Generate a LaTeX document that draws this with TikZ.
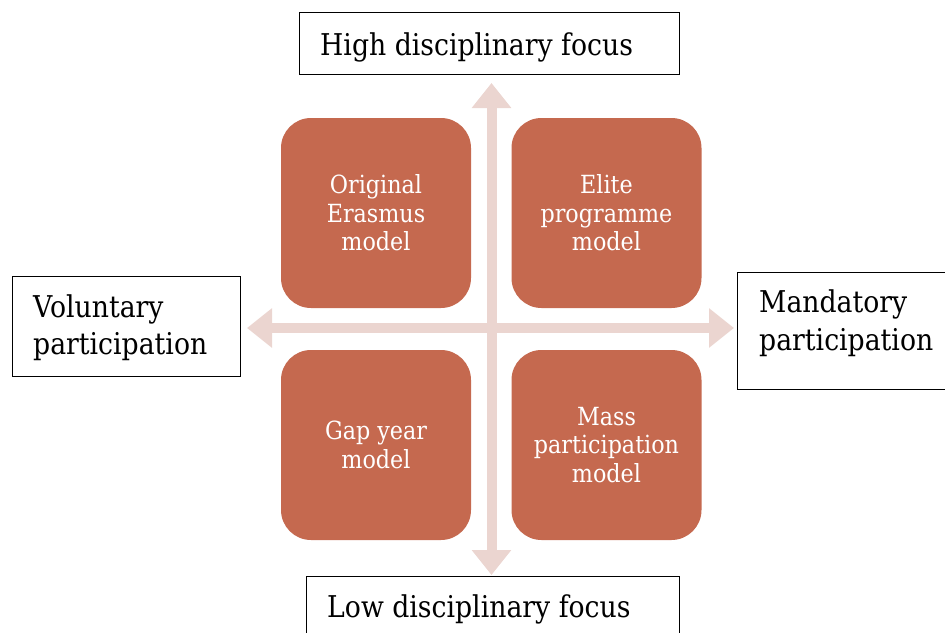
\documentclass[tikz,border=0pt]{standalone}
\usepackage{fontspec}
\setmainfont{DejaVu Serif}[FakeStretch=0.89]
\usetikzlibrary{arrows.meta,fit}
\definecolor{quad}{HTML}{C5694F}
\definecolor{axis}{HTML}{EBD5D0}
\tikzset{
  quadbox/.style={draw=none, fill=quad, rounded corners=30pt, minimum width=190pt, minimum height=190pt, text=white, align=center, font=\fontsize{25}{28.5}\selectfont, inner sep=0pt},
  framebox/.style={draw=black, line width=1pt, inner sep=0pt},
  outertext/.style={anchor=base west, align=left, inner sep=0pt, font=\fontsize{30}{37.5}\selectfont},
  axisarrow/.style={draw=axis, line width=10pt, {Triangle[width=38pt,length=25pt]}-{Triangle[width=38pt,length=25pt]}}
}
\begin{document}
\begin{tikzpicture}[x=1pt,y=-1pt]
\useasboundingbox (0,0) rectangle (945,632);
\clip (0,0) rectangle (945,632);
% axes
\coordinate (vtop) at (491.5,83);
\coordinate (vbot) at (491.5,575);
\coordinate (hleft) at (247,328);
\coordinate (hright) at (734,328);
\draw[axisarrow] (vtop) -- (vbot);
\draw[axisarrow] (hleft) -- (hright);
% quadrant boxes
\node[quadbox] (tl) at (376,213) {Original\\Erasmus\\model};
\node[quadbox] (tr) at (606.5,213) {Elite\\programme\\model};
\node[quadbox] (bl) at (376,445) {Gap year\\model};
\node[quadbox] (br) at (606.5,445) {Mass\\participation\\model};
% frame boxes
\node[framebox, fit={(299.5,12.5) (679.5,74)}] (topbox) {};
\node[outertext] (toptext) at (320,55) {High disciplinary focus};
\node[framebox, fit={(12.5,276) (240,376)}] (leftbox) {};
\node[outertext] (lefttext) at (33,354.5) {Voluntary\\participation};
\node[framebox, fit={(737.5,272) (960,389)}] (rightbox) {};
\node[outertext] (righttext) at (759,350) {Mandatory\\participation};
\node[framebox, fit={(306.5,576) (679,650)}] (botbox) {};
\node[outertext] (bottext) at (327,617) {Low disciplinary focus};
\end{tikzpicture}
\end{document}
